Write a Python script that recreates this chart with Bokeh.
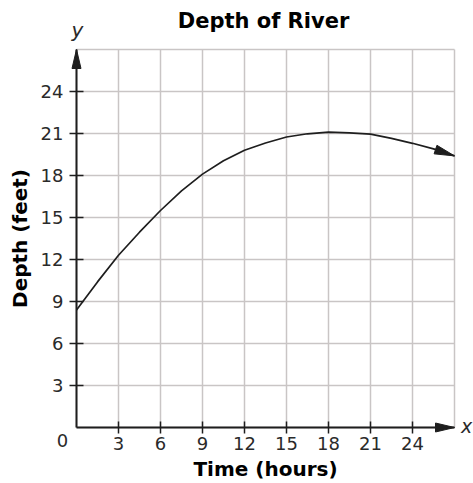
from bokeh.plotting import figure
from bokeh.models import FixedTicker, Label, Range1d
from bokeh.embed import file_html
from bokeh.resources import INLINE
import math

# ---- data ----
hours = [0, 1.5, 3, 4.5, 6, 7.5, 9, 10.5, 12, 13.5, 15, 16.5, 18, 19.5, 21, 22.5, 24, 25.5, 27]
depth = [8.4, 10.4, 12.3, 13.95, 15.5, 16.9, 18.1, 19.05, 19.8, 20.32, 20.75, 20.98, 21.1,
         21.05, 20.95, 20.65, 20.3, 19.9, 19.4]
x_ticks = [3, 6, 9, 12, 15, 18, 21, 24]
y_ticks = [3, 6, 9, 12, 15, 18, 21, 24]
grid_ticks = [0, 3, 6, 9, 12, 15, 18, 21, 24, 27]
x_max = 27
y_max = 27
title_text = "Depth of River"
x_title = "Time (hours)"
y_title = "Depth (feet)"

FONT = "DejaVu Sans"
GRID = "#c9c5c5"
INK = "#1e1e1e"
TXT = "#2a2a2a"

# layout (pixels)
W, H = 473, 483
PPU = 14.0          # pixels per data unit, both axes
ORIGIN_X = 76       # pixel column of x = 0
ORIGIN_Y_FROM_BOTTOM = 56  # pixel row of y = 0, measured from the bottom

x_start = -ORIGIN_X / PPU
x_end = (W - ORIGIN_X) / PPU
y_start = -ORIGIN_Y_FROM_BOTTOM / PPU
y_end = (H - ORIGIN_Y_FROM_BOTTOM) / PPU

p = figure(
    width=W, height=H,
    min_border_left=0, min_border_right=0, min_border_top=0, min_border_bottom=0,
    x_range=Range1d(x_start, x_end), y_range=Range1d(y_start, y_end),
    output_backend="svg", toolbar_location=None,
)
p.background_fill_color = "white"
p.border_fill_color = "white"
p.outline_line_color = None
p.xgrid.visible = False
p.ygrid.visible = False

# grid confined to the first quadrant
n = len(grid_ticks)
p.segment(x0=grid_ticks, y0=[0] * n, x1=grid_ticks, y1=[y_max] * n,
          line_color=GRID, line_width=1.5)
p.segment(x0=[0] * n, y0=grid_ticks, x1=[x_max] * n, y1=grid_ticks,
          line_color=GRID, line_width=1.5)

# axes placed at the data origin
p.xaxis.fixed_location = 0
p.yaxis.fixed_location = 0
p.xaxis.bounds = (0, x_max)
p.yaxis.bounds = (0, y_max)
p.xaxis.ticker = FixedTicker(ticks=x_ticks)
p.yaxis.ticker = FixedTicker(ticks=y_ticks)
p.xaxis.axis_label = x_title
p.yaxis.axis_label = y_title
for ax in (p.xaxis, p.yaxis):
    ax.axis_line_color = INK
    ax.axis_line_width = 2
    ax.major_tick_line_color = INK
    ax.major_tick_line_width = 1.5
    ax.minor_tick_line_color = None
    ax.major_label_text_font = FONT
    ax.major_label_text_font_size = "18px"
    ax.major_label_text_color = TXT
    ax.axis_label_text_font = FONT
    ax.axis_label_text_font_size = "20px"
    ax.axis_label_text_font_style = "bold"
    ax.axis_label_text_color = "black"
p.xaxis.major_tick_in = 6
p.xaxis.major_tick_out = 6
p.xaxis.major_label_standoff = 3
p.xaxis.axis_label_standoff = 4
p.yaxis.major_tick_in = 7
p.yaxis.major_tick_out = 7
p.yaxis.major_label_standoff = 6
p.yaxis.axis_label_standoff = 6


def head(tip_x, tip_y, from_x, from_y, length=19.0, half=4.5):
    dx = tip_x - from_x
    dy = tip_y - from_y
    d = math.hypot(dx, dy)
    ux, uy = dx / d, dy / d
    bx = tip_x - ux * length / PPU
    by = tip_y - uy * length / PPU
    nx, ny = -uy, ux
    xs = [tip_x, bx + nx * half / PPU, bx - nx * half / PPU]
    ys = [tip_y, by + ny * half / PPU, by - ny * half / PPU]
    return xs, ys


# curve
p.line(hours, depth, line_color=INK, line_width=1.7)
hx, hy = head(hours[-1], depth[-1], hours[-2], depth[-2], length=20, half=4.5)
p.patch(hx, hy, fill_color=INK, line_color=INK, line_width=1)

# axis arrowheads
ax_x, ax_y = head(x_max, 0, 0, 0)
p.patch(ax_x, ax_y, fill_color=INK, line_color=INK, line_width=1)
ay_x, ay_y = head(0, y_max, 0, 0)
p.patch(ay_x, ay_y, fill_color=INK, line_color=INK, line_width=1)

# title, origin label and axis letters
p.add_layout(Label(x=x_max / 2, y=y_max, text=title_text, x_offset=-2, y_offset=29,
                   text_align="center", text_baseline="alphabetic",
                   text_font=FONT, text_font_size="21px", text_font_style="bold",
                   text_color="black"))
p.add_layout(Label(x=0, y=0, text="0", x_offset=-14, y_offset=-13,
                   text_align="center", text_baseline="alphabetic",
                   text_font=FONT, text_font_size="18px", text_color=TXT))
p.add_layout(Label(x=0, y=y_max, text="y", x_offset=1, y_offset=20,
                   text_align="center", text_baseline="alphabetic",
                   text_font=FONT, text_font_size="20px", text_font_style="italic",
                   text_color=TXT))
p.add_layout(Label(x=x_max, y=0, text="x", x_offset=12, y_offset=2,
                   text_align="center", text_baseline="alphabetic",
                   text_font=FONT, text_font_size="19px", text_font_style="italic",
                   text_color=TXT))

open("out.html", "w").write(file_html(p, INLINE))
